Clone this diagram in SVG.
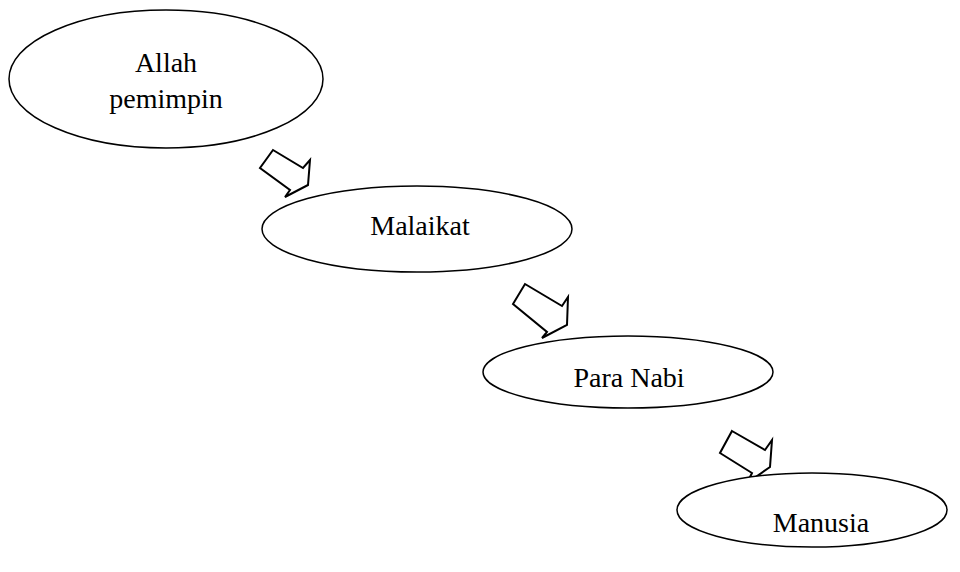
<svg xmlns="http://www.w3.org/2000/svg" width="960" height="572" viewBox="0 0 960 572">
<style>
.n{fill:#fff;stroke:#000;stroke-width:1.5}
.t{font-family:"Liberation Serif","Times New Roman",serif;font-size:28px;fill:#000;text-anchor:middle}
.a{fill:#fff;stroke:#000;stroke-width:2;stroke-linejoin:miter}
</style>
<rect width="960" height="572" fill="#fff"/>
<g id="connectors">
<polygon class="a" points="273,150 303,168 310,160 308,185 285,197 290,190 260,168"/>
<polygon class="a" points="525,284 562,306 568,297 567,325 542,338 547,332 513,304"/>
<polygon class="a" points="732,431 765,450 772,440 770,467 747,483 752,473 720,453"/>
</g>
<g id="allah">
<ellipse class="n" cx="166" cy="79" rx="157" ry="69"/>
<text class="t" x="166" y="72">Allah</text>
<text class="t" x="166" y="108">pemimpin</text>
</g>
<g id="malaikat">
<ellipse class="n" cx="417" cy="229" rx="155" ry="43"/>
<text class="t" x="420" y="235">Malaikat</text>
</g>
<g id="para-nabi">
<ellipse class="n" cx="628" cy="372" rx="145" ry="36"/>
<text class="t" x="629" y="387">Para Nabi</text>
</g>
<g id="manusia">
<ellipse class="n" cx="812" cy="510" rx="135" ry="37"/>
<text class="t" x="821" y="532">Manusia</text>
</g>
</svg>
